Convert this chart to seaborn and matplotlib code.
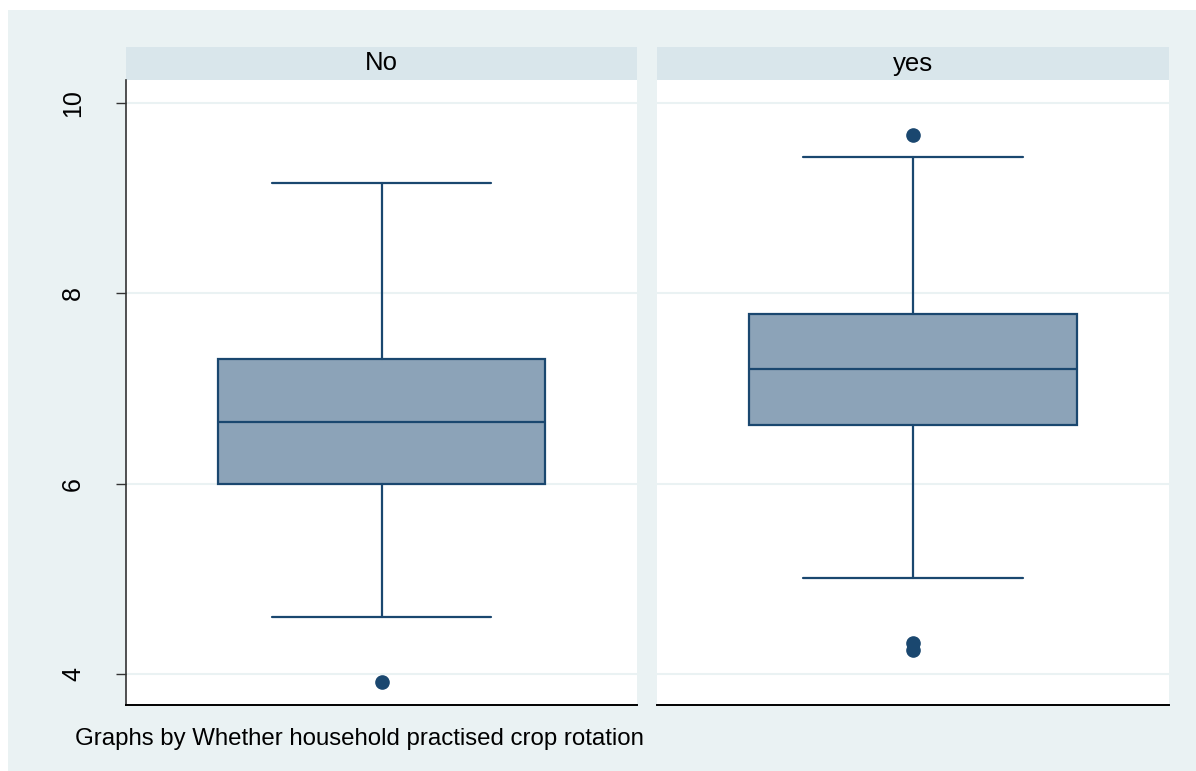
import matplotlib
matplotlib.use("Agg")
import matplotlib.pyplot as plt
from matplotlib.patches import Rectangle
import pandas as pd
import seaborn as sns

# Summary statistics per group (box plot of the outcome by crop rotation)
groups = ["No", "yes"]
whisker_low = [4.60, 5.01]
q1 = [6.00, 6.62]
median = [6.65, 7.21]
q3 = [7.31, 7.78]
whisker_high = [9.16, 9.43]
outliers = [[3.92], [4.33, 4.25, 9.66]]
y_ticks = [4, 6, 8, 10]
caption = "Graphs by Whether household practised crop rotation"

BG = "#EAF2F3"
STRIP = "#D9E6EB"
NAVY = "#1A476F"
FILL = "#8CA3B8"

df = pd.DataFrame({
    "group": groups, "whislo": whisker_low, "q1": q1, "med": median,
    "q3": q3, "whishi": whisker_high, "fliers": outliers,
})

sns.set_theme(style="white")
plt.rcParams["font.family"] = ["Liberation Sans", "DejaVu Sans"]


def stata_box(data, **kws):
    ax = plt.gca()
    row = data.iloc[0]
    stats = [{
        "whislo": row["whislo"], "q1": row["q1"], "med": row["med"],
        "q3": row["q3"], "whishi": row["whishi"], "fliers": row["fliers"],
    }]
    ax.bxp(stats, positions=[0], widths=0.64, capwidths=0.43,
           patch_artist=True, showfliers=True,
           boxprops=dict(facecolor=FILL, edgecolor=NAVY, linewidth=1.6),
           medianprops=dict(color=NAVY, linewidth=1.6),
           whiskerprops=dict(color=NAVY, linewidth=1.6),
           capprops=dict(color=NAVY, linewidth=1.6),
           flierprops=dict(marker="o", markerfacecolor=NAVY,
                           markeredgecolor=NAVY, markersize=9.5))


g = sns.FacetGrid(df, col="group", col_order=groups, sharey=True)
g.map_dataframe(stata_box)

fig = g.figure
fig.set_size_inches(11.96, 7.71)
fig.set_dpi(100)
fig.patch.set_facecolor("white")

W, H = 1196, 771
# outer graph region
fig.patches.append(Rectangle((8 / W, 0), 1 - 8 / W, 1 - 10 / H,
                             transform=fig.transFigure, facecolor=BG,
                             edgecolor="none", zorder=-10))

panel_x = [(126, 637), (657, 1169)]
top_px, bottom_px = 80, 705
for i, (ax, name) in enumerate(zip(g.axes.flat, groups)):
    x0, x1 = panel_x[i]
    ax.set_position([x0 / W, 1 - bottom_px / H, (x1 - x0) / W,
                     (bottom_px - top_px) / H])
    ax.set_facecolor("white")
    ax.set_xlim(-0.5, 0.5)
    ax.set_ylim(3.674, 10.242)
    ax.set_xticks([])
    ax.set_title("")
    ax.set_xlabel("")
    ax.set_ylabel("")
    for yv in y_ticks:
        ax.axhline(yv, color=BG, linewidth=1.5, zorder=0)
    for s in ["top", "right"]:
        ax.spines[s].set_visible(False)
    ax.spines["bottom"].set_visible(True)
    ax.spines["bottom"].set_color("#000000")
    ax.spines["bottom"].set_linewidth(1.4)
    if i == 0:
        ax.spines["left"].set_visible(True)
        ax.spines["left"].set_color("#333333")
        ax.spines["left"].set_linewidth(1.2)
        ax.set_yticks(y_ticks)
        ax.set_yticklabels([str(t) for t in y_ticks], rotation=90,
                           va="center", fontsize=18)
        ax.tick_params(axis="y", left=True, length=7.5, width=1.0,
                       color="#333333", pad=22, labelcolor="#000000")
    else:
        ax.spines["left"].set_visible(False)
        ax.tick_params(axis="y", left=False, labelleft=False)
    # strip heading
    strip_h = 33 / (bottom_px - top_px)
    ax.add_patch(Rectangle((0, 1), 1, strip_h, transform=ax.transAxes,
                           facecolor=STRIP, edgecolor="none", clip_on=False))
    ax.text(0.5, 1 + strip_h / 2, name, transform=ax.transAxes,
            ha="center", va="center", fontsize=18.5, color="#000000")

fig.text(75 / W, 1 - 745 / H, caption, ha="left", va="baseline",
         fontsize=17.3, color="#000000")

fig.savefig("out.png", dpi=100, facecolor="white")
